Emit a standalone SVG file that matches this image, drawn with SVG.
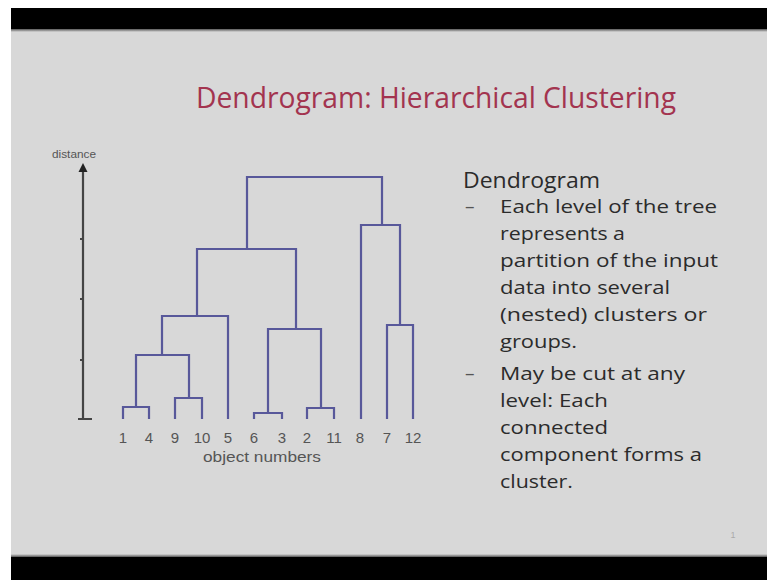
<svg xmlns="http://www.w3.org/2000/svg" width="767" height="580" viewBox="0 0 767 580">
  <defs>
    <linearGradient id="topFade" x1="0" y1="0" x2="0" y2="1">
      <stop offset="0" stop-color="#555"/>
      <stop offset="1" stop-color="#d8d8d8"/>
    </linearGradient>
    <linearGradient id="botFade" x1="0" y1="0" x2="0" y2="1">
      <stop offset="0" stop-color="#d8d8d8"/>
      <stop offset="1" stop-color="#555"/>
    </linearGradient>
  </defs>
  <style>
    .title { font-family: "Open Sans", "Liberation Sans", sans-serif; font-size: 30px; fill: #a3344f; }
    .head { font-family: "Open Sans", "Liberation Sans", sans-serif; font-size: 22px; fill: #2b2b2b; }
    .body { font-family: "Open Sans", "Liberation Sans", sans-serif; font-size: 19px; fill: #2b2b2b; }
    .dash { font-family: "Open Sans", "Liberation Sans", sans-serif; font-size: 19px; fill: #555; }
    .leaf { font-family: "Liberation Sans", sans-serif; font-size: 15px; fill: #555; text-anchor: middle; }
    .axislbl { font-family: "Liberation Sans", sans-serif; font-size: 11px; fill: #555; }
    .tree { fill: none; stroke: #58589a; stroke-width: 2.2; }
    .axis { fill: none; stroke: #444; stroke-width: 2.2; }
  </style>

  <!-- slide frame -->
  <rect x="0" y="0" width="767" height="580" fill="#ffffff"/>
  <rect x="11" y="8" width="756" height="572" fill="#d8d8d8"/>
  <rect x="11" y="8" width="756" height="21" fill="#000"/>
  <rect x="11" y="29" width="756" height="3" fill="url(#topFade)"/>
  <rect x="11" y="554" width="756" height="3" fill="url(#botFade)"/>
  <rect x="11" y="557" width="756" height="23" fill="#000"/>

  <!-- slide title -->
  <text class="title" x="436" y="108" text-anchor="middle" textLength="480" lengthAdjust="spacingAndGlyphs">Dendrogram: Hierarchical Clustering</text>

  <!-- distance axis -->
  <g id="axis">
    <text class="axislbl" x="52" y="158" textLength="44" lengthAdjust="spacingAndGlyphs">distance</text>
    <line class="axis" x1="83" y1="419" x2="83" y2="170"/>
    <polygon points="83,163 87.5,172 78.5,172" fill="#222"/>
    <path class="axis" d="M78,419 H92 M80,239 H83 M80,299 H83 M80,360 H83" stroke-width="1.6"/>
  </g>

  <!-- dendrogram links -->
  <g id="connectors" class="tree">
    <path d="M123,419 V407 H149 V419"/>
    <path d="M175,419 V398 H202 V419"/>
    <path d="M136,407 V355 H189 V398"/>
    <path d="M162,355 V316 H228 V419"/>
    <path d="M254,419 V413 H282 V419"/>
    <path d="M307,419 V408 H334 V419"/>
    <path d="M268,413 V329 H321 V408"/>
    <path d="M197,316 V249 H296 V329"/>
    <path d="M387,419 V325 H413 V419"/>
    <path d="M361,419 V225 H400 V325"/>
    <path d="M247,249 V177 H382 V225"/>
  </g>

  <!-- leaves -->
  <g id="leaves" class="leaf">
    <text id="leaf-1" x="123" y="443">1</text>
    <text id="leaf-4" x="149" y="443">4</text>
    <text id="leaf-9" x="175" y="443">9</text>
    <text id="leaf-10" x="202" y="443">10</text>
    <text id="leaf-5" x="228" y="443">5</text>
    <text id="leaf-6" x="254" y="443">6</text>
    <text id="leaf-3" x="282" y="443">3</text>
    <text id="leaf-2" x="307" y="443">2</text>
    <text id="leaf-11" x="334" y="443">11</text>
    <text id="leaf-8" x="360" y="443">8</text>
    <text id="leaf-7" x="387" y="443">7</text>
    <text id="leaf-12" x="413" y="443">12</text>
    <text x="262" y="462" font-size="14" textLength="118" lengthAdjust="spacingAndGlyphs">object numbers</text>
  </g>

  <!-- explanation text -->
  <g id="notes">
    <text class="head" x="463" y="188" textLength="137" lengthAdjust="spacingAndGlyphs">Dendrogram</text>
    <text class="dash" x="465" y="213">–</text>
    <text class="body" x="500" y="213" textLength="217" lengthAdjust="spacingAndGlyphs">Each level of the tree</text>
    <text class="body" x="500" y="240" textLength="125" lengthAdjust="spacingAndGlyphs">represents a</text>
    <text class="body" x="500" y="267" textLength="218" lengthAdjust="spacingAndGlyphs">partition of the input</text>
    <text class="body" x="500" y="294" textLength="170" lengthAdjust="spacingAndGlyphs">data into several</text>
    <text class="body" x="500" y="321" textLength="207" lengthAdjust="spacingAndGlyphs">(nested) clusters or</text>
    <text class="body" x="500" y="348" textLength="77" lengthAdjust="spacingAndGlyphs">groups.</text>
    <text class="dash" x="465" y="380">–</text>
    <text class="body" x="500" y="380" textLength="185" lengthAdjust="spacingAndGlyphs">May be cut at any</text>
    <text class="body" x="500" y="407" textLength="108" lengthAdjust="spacingAndGlyphs">level: Each</text>
    <text class="body" x="500" y="434" textLength="108" lengthAdjust="spacingAndGlyphs">connected</text>
    <text class="body" x="500" y="461" textLength="202" lengthAdjust="spacingAndGlyphs">component forms a</text>
    <text class="body" x="500" y="488" textLength="73" lengthAdjust="spacingAndGlyphs">cluster.</text>
  </g>

  <!-- page number -->
  <text x="733" y="538" font-family="Liberation Sans, sans-serif" font-size="9" fill="#aaa" text-anchor="middle">1</text>
</svg>
